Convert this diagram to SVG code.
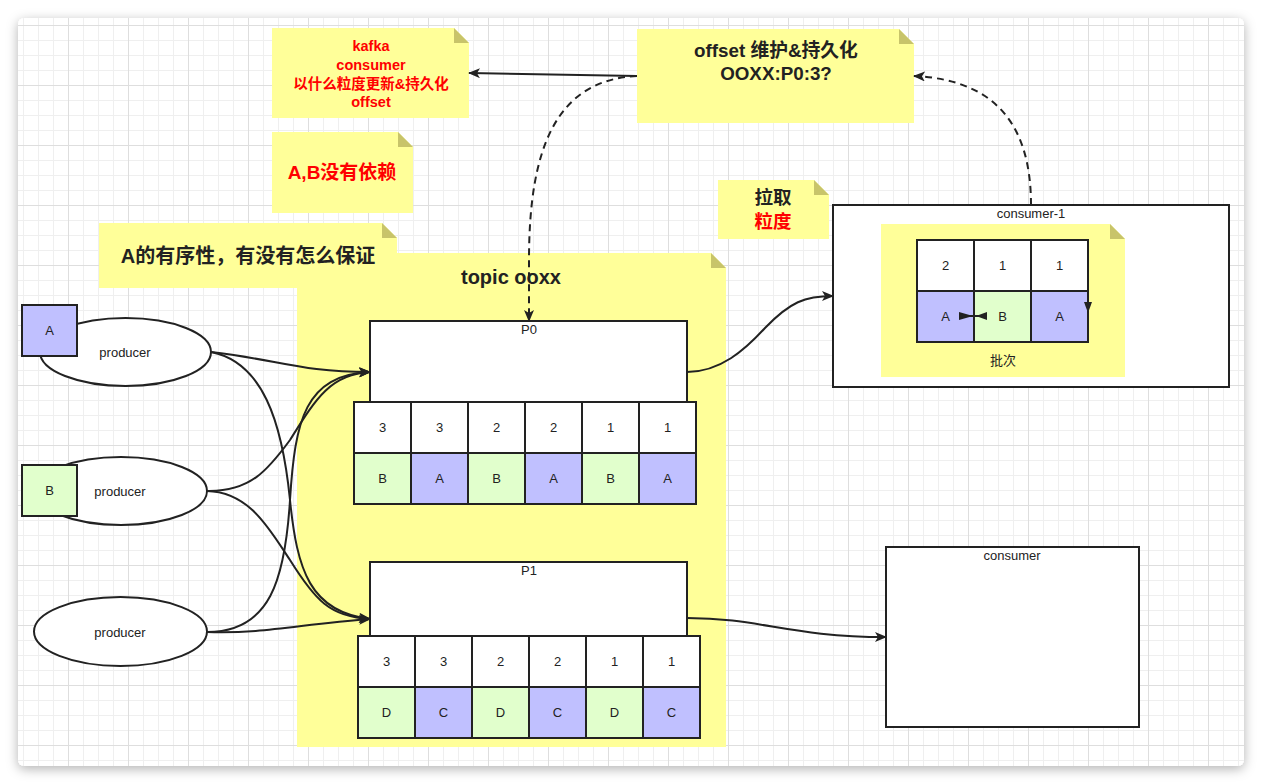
<svg xmlns="http://www.w3.org/2000/svg" width="1262" height="784" viewBox="0 0 1262 784">
<defs>
<style>
.txt{font-family:"Liberation Sans","Noto Sans CJK SC",sans-serif;fill:#222;text-anchor:middle}
.sm{font-size:13px}
.bd{font-weight:bold}
.red{fill:#ff0000}
.note{fill:#ffff99;stroke:none}
.fold{fill:#c8c46a;stroke:none}
.box{fill:#ffffff;stroke:#222;stroke-width:2}
.pa{fill:#c0c0ff;stroke:#222;stroke-width:2}
.gb{fill:#e1ffcc;stroke:#222;stroke-width:2}
.wc{fill:#ffffff;stroke:#222;stroke-width:2}
.ell{fill:#ffffff;stroke:#222;stroke-width:2}
.edge{fill:none;stroke:#222;stroke-width:2}
.dash{fill:none;stroke:#222;stroke-width:2;stroke-dasharray:7 5}
</style>
<pattern id="grid" x="8" y="25" width="60" height="60" patternUnits="userSpaceOnUse">
<path d="M15.5,0V60M30.5,0V60M45.5,0V60M0,15.5H60M0,30.5H60M0,45.5H60" stroke="#efefef" stroke-width="1" fill="none"/>
<path d="M0.5,0V60M0,0.5H60" stroke="#dedede" stroke-width="1" fill="none"/>
</pattern>
<filter id="sh" x="-5%" y="-5%" width="110%" height="112%">
<feDropShadow dx="0" dy="3" stdDeviation="6" flood-color="#000" flood-opacity="0.3"/>
</filter>
<marker id="arr" viewBox="0 0 12 10" refX="11" refY="5" markerWidth="12" markerHeight="10" markerUnits="userSpaceOnUse" orient="auto">
<path d="M0,0 L12,5 L0,10 L3,5 z" fill="#222"/>
</marker>
</defs>
<rect width="1262" height="784" fill="#ffffff"/>
<rect x="18" y="18" width="1226" height="748" rx="6" fill="#ffffff" filter="url(#sh)"/>
<rect x="18" y="18" width="1226" height="748" rx="6" fill="url(#grid)"/>

<g id="note-topic">
<path class="note" d="M297,253H711L726,268V747H297Z"/>
<path class="fold" d="M711,253V268H726Z"/>
<text class="txt bd" x="511" y="284" font-size="20">topic ooxx</text>
</g>
<g id="note-kafka">
<path class="note" d="M272,28H454L469,43V118H272Z"/>
<path class="fold" d="M454,28V43H469Z"/>
<text class="txt bd red" font-size="14.5"><tspan x="371" y="51">kafka</tspan><tspan x="371" y="70">consumer</tspan><tspan x="371" y="89">以什么粒度更新&amp;持久化</tspan><tspan x="371" y="107">offset</tspan></text>
</g>
<g id="note-ab">
<path class="note" d="M272,132H398L413,147V213H272Z"/>
<path class="fold" d="M398,132V147H413Z"/>
<text class="txt bd red" x="342" y="179" font-size="19">A,B没有依赖</text>
</g>
<g id="note-order">
<path class="note" d="M99,223H382L397,238V288H99Z"/>
<path class="fold" d="M382,223V238H397Z"/>
<text class="txt bd" x="248" y="263" font-size="20">A的有序性，有没有怎么保证</text>
</g>
<g id="note-offset">
<path class="note" d="M637,29H899L914,44V123H637Z"/>
<path class="fold" d="M899,29V44H914Z"/>
<text class="txt bd" font-size="18.8"><tspan x="776" y="57">offset 维护&amp;持久化</tspan><tspan x="776" y="80">OOXX:P0:3?</tspan></text>
</g>
<g id="note-pull">
<path class="note" d="M718,180H814L829,195V239H718Z"/>
<path class="fold" d="M814,180V195H829Z"/>
<text class="txt bd" font-size="18.5"><tspan x="773" y="204">拉取</tspan><tspan x="773" y="228" class="red">粒度</tspan></text>
</g>

<g id="producer-1">
<ellipse class="ell" cx="125.5" cy="352" rx="85.5" ry="34"/>
<text class="txt sm" x="125" y="357">producer</text>
</g>
<g id="msg-A">
<rect class="pa" x="22" y="305" width="55" height="51"/>
<text class="txt sm" x="49.5" y="335">A</text>
</g>
<g id="producer-2">
<ellipse class="ell" cx="121" cy="491" rx="86" ry="34"/>
<text class="txt sm" x="120" y="496">producer</text>
</g>
<g id="msg-B">
<rect class="gb" x="22" y="465" width="55" height="51"/>
<text class="txt sm" x="49.5" y="495">B</text>
</g>
<g id="producer-3">
<ellipse class="ell" cx="120.5" cy="631.5" rx="86.5" ry="34.5"/>
<text class="txt sm" x="120" y="637">producer</text>
</g>

<g id="p0">
<rect class="box" x="370" y="321" width="317" height="81"/>
<text class="txt sm" x="529" y="334">P0</text>
<rect class="wc" x="354" y="402" width="57" height="51"/>
<rect class="wc" x="411" y="402" width="57" height="51"/>
<rect class="wc" x="468" y="402" width="57" height="51"/>
<rect class="wc" x="525" y="402" width="57" height="51"/>
<rect class="wc" x="582" y="402" width="57" height="51"/>
<rect class="wc" x="639" y="402" width="57" height="51"/>
<rect class="gb" x="354" y="453" width="57" height="51"/>
<rect class="pa" x="411" y="453" width="57" height="51"/>
<rect class="gb" x="468" y="453" width="57" height="51"/>
<rect class="pa" x="525" y="453" width="57" height="51"/>
<rect class="gb" x="582" y="453" width="57" height="51"/>
<rect class="pa" x="639" y="453" width="57" height="51"/>
<g class="txt sm">
<text x="382.5" y="432">3</text><text x="439.5" y="432">3</text><text x="496.5" y="432">2</text><text x="553.5" y="432">2</text><text x="610.5" y="432">1</text><text x="667.5" y="432">1</text>
<text x="382.5" y="483">B</text><text x="439.5" y="483">A</text><text x="496.5" y="483">B</text><text x="553.5" y="483">A</text><text x="610.5" y="483">B</text><text x="667.5" y="483">A</text>
</g>
</g>

<g id="p1">
<rect class="box" x="370" y="562" width="317" height="74"/>
<text class="txt sm" x="529" y="575">P1</text>
<rect class="wc" x="358" y="636" width="57" height="51"/>
<rect class="wc" x="415" y="636" width="57" height="51"/>
<rect class="wc" x="472" y="636" width="57" height="51"/>
<rect class="wc" x="529" y="636" width="57" height="51"/>
<rect class="wc" x="586" y="636" width="57" height="51"/>
<rect class="wc" x="643" y="636" width="57" height="51"/>
<rect class="gb" x="358" y="687" width="57" height="51"/>
<rect class="pa" x="415" y="687" width="57" height="51"/>
<rect class="gb" x="472" y="687" width="57" height="51"/>
<rect class="pa" x="529" y="687" width="57" height="51"/>
<rect class="gb" x="586" y="687" width="57" height="51"/>
<rect class="pa" x="643" y="687" width="57" height="51"/>
<g class="txt sm">
<text x="386.5" y="666">3</text><text x="443.5" y="666">3</text><text x="500.5" y="666">2</text><text x="557.5" y="666">2</text><text x="614.5" y="666">1</text><text x="671.5" y="666">1</text>
<text x="386.5" y="717">D</text><text x="443.5" y="717">C</text><text x="500.5" y="717">D</text><text x="557.5" y="717">C</text><text x="614.5" y="717">D</text><text x="671.5" y="717">C</text>
</g>
</g>

<g id="consumer-1">
<rect class="box" x="833" y="205" width="396" height="182"/>
<text class="txt sm" x="1031" y="218">consumer-1</text>
<path class="note" d="M881,224H1110L1125,239V377H881Z"/>
<path class="fold" d="M1110,224V239H1125Z"/>
<rect class="wc" x="917" y="240" width="57" height="51"/>
<rect class="wc" x="974" y="240" width="57" height="51"/>
<rect class="wc" x="1031" y="240" width="57" height="51"/>
<rect class="pa" x="917" y="291" width="57" height="51"/>
<rect class="gb" x="974" y="291" width="57" height="51"/>
<rect class="pa" x="1031" y="291" width="57" height="51"/>
<g class="txt sm">
<text x="945.5" y="270">2</text><text x="1002.5" y="270">1</text><text x="1059.5" y="270">1</text>
<text x="945.5" y="321">A</text><text x="1002.5" y="321">B</text><text x="1059.5" y="321">A</text>
<text x="1003" y="365">批次</text>
</g>
<path d="M959,316H987" stroke="#222" stroke-width="2"/>
<path d="M959,312L973,316L959,320Z" fill="#222"/>
<path d="M987,312L976,316L987,320Z" fill="#222"/>
<path d="M1084,302L1092,302L1088,313Z" fill="#222"/>
</g>

<g id="consumer">
<rect class="box" x="886" y="547" width="253" height="180"/>
<text class="txt sm" x="1012" y="560">consumer</text>
</g>

<g id="connectors">
<path class="edge" marker-end="url(#arr)" d="M211,352 C280,360 300,372 370,372"/>
<path class="edge" marker-end="url(#arr)" d="M211,352 C262,362 282,420 290,500 C297,570 310,612 370,619"/>
<path class="edge" marker-end="url(#arr)" d="M207,491 C250,492 268,470 290,440 C315,400 330,374 370,372"/>
<path class="edge" marker-end="url(#arr)" d="M207,491 C250,492 270,530 290,560 C315,600 330,617 370,619"/>
<path class="edge" marker-end="url(#arr)" d="M207,632 C270,632 285,580 290,500 C295,420 305,375 370,372"/>
<path class="edge" marker-end="url(#arr)" d="M207,632 C265,634 300,624 370,619"/>
<path class="edge" marker-end="url(#arr)" d="M687,372 C720,372 745,350 765,328 C790,302 805,296 833,296"/>
<path class="edge" marker-end="url(#arr)" d="M687,618 C760,618 790,637 886,637"/>
<path class="edge" marker-end="url(#arr)" d="M637,76 L469,73"/>
<path class="dash" marker-end="url(#arr)" d="M637,76 C555,80 529,150 529,260 L529,321"/>
<path class="dash" marker-end="url(#arr)" d="M1031,205 C1031,130 1000,80 914,76"/>
</g>
</svg>
